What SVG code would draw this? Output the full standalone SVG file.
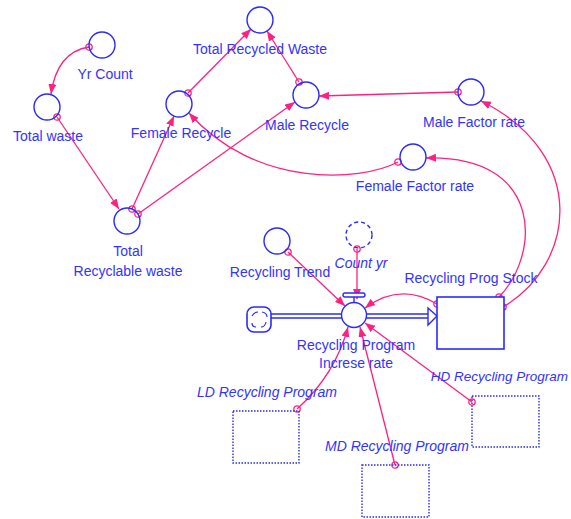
<svg xmlns="http://www.w3.org/2000/svg" width="571" height="519" viewBox="0 0 571 519">
<defs>
<marker id="ah" markerUnits="userSpaceOnUse" markerWidth="12" markerHeight="10" refX="10" refY="4" orient="auto"><path d="M0,0 L10,4 L0,8 z" fill="#ff2080"/></marker>
<marker id="src" markerUnits="userSpaceOnUse" markerWidth="10" markerHeight="10" refX="5" refY="5"><circle cx="5" cy="5" r="3.2" fill="none" stroke="#ff2080" stroke-width="1.3"/></marker>
<style>
.aux{fill:none;stroke:#2a2aff;stroke-width:1.4}
.shadow{fill:none;stroke:#2a2aff;stroke-width:1.4;stroke-dasharray:4 3}
.lbl{font-family:"Liberation Sans",Arial,sans-serif;font-size:14px;fill:#3333ff;text-anchor:middle}
.it{font-style:italic}
.con{fill:none;stroke:#ff2080;stroke-width:1.3;marker-end:url(#ah);marker-start:url(#src)}
.stock{fill:#fff;stroke:#2a2aff;stroke-width:1.6}
.ghost{fill:none;stroke:#2a2aff;stroke-width:1.4;stroke-dasharray:1.5 1.5}
.pipe{stroke:#2a2aff;stroke-width:1.4;fill:none}
</style>
</defs>
<rect width="571" height="519" fill="#fff"/>
<g id="flow">
<line class="pipe" x1="271" y1="314" x2="342" y2="314"/>
<line class="pipe" x1="271" y1="318" x2="342" y2="318"/>
<line class="pipe" x1="366" y1="314" x2="430" y2="314"/>
<line class="pipe" x1="366" y1="318" x2="430" y2="318"/>
<path d="M428,308 L437,316 L428,325 z" fill="#fff" stroke="#2a2aff" stroke-width="1.4"/>
</g>
<g id="cloud">
<rect x="247" y="307" width="24" height="25" rx="7" fill="#fff" stroke="#2a2aff" stroke-width="1.6"/>
<path d="M252,316 q2,-4 6,-4 M262,312 q5,1 5,5 M266,322 q-1,5 -5,5 M256,327 q-4,0 -4,-4" fill="none" stroke="#2a2aff" stroke-width="1.2"/>
</g>
<g id="connectors">
<path class="con" d="M89,47 Q57,52 51,94"/>
<path class="con" d="M57,117 L119,209"/>
<path class="con" d="M132,209 L174,116"/>
<path class="con" d="M138,214 L295,102"/>
<path class="con" d="M188,93 L251,29"/>
<path class="con" d="M299,82 L267,31"/>
<path class="con" d="M458,92 Q390,94 319,96"/>
<path class="con" d="M398,162 C360,182 255,188 189,113"/>
<path class="con" d="M503,307 C575,265 590,155 481,101"/>
<path class="con" d="M499,297 C540,255 545,155 426,158"/>
<path class="con" d="M288,252 L345,306"/>
<path class="con" d="M357,249 L357,299"/>
<path class="con" d="M437,304 Q400,282 365,308"/>
<path class="con" d="M297,409 Q335,375 348,327"/>
<path class="con" d="M395,465 L360,327"/>
<path class="con" d="M472,402 L365,323"/>
</g>
<g id="yr_count"><circle class="aux" cx="102" cy="45" r="13"/><text class="lbl" x="105" y="79">Yr Count</text></g>
<g id="total_waste"><circle class="aux" cx="47" cy="107" r="13"/><text class="lbl" x="48" y="141">Total waste</text></g>
<g id="female_recycle"><circle class="aux" cx="179" cy="104" r="13"/><text class="lbl" x="181" y="138">Female Recycle</text></g>
<g id="total_recycled_waste"><circle class="aux" cx="260" cy="20" r="13"/><text class="lbl" x="260" y="54">Total Recycled Waste</text></g>
<g id="male_recycle"><circle class="aux" cx="306" cy="95" r="13"/><text class="lbl" x="307" y="130">Male Recycle</text></g>
<g id="male_factor_rate"><circle class="aux" cx="471" cy="92" r="13"/><text class="lbl" x="474" y="127">Male Factor rate</text></g>
<g id="female_factor_rate"><circle class="aux" cx="413" cy="157" r="13"/><text class="lbl" x="415" y="191">Female Factor rate</text></g>
<g id="total_recyclable_waste"><circle class="aux" cx="127" cy="221" r="13"/><text class="lbl" x="128" y="256">Total</text><text class="lbl" x="128" y="276">Recyclable waste</text></g>
<g id="recycling_trend"><circle class="aux" cx="277" cy="241" r="13"/><text class="lbl" x="280" y="277">Recycling Trend</text></g>
<g id="count_yr"><circle class="shadow" cx="359" cy="235" r="13"/><text class="lbl it" x="361" y="268">Count yr</text></g>
<g id="recycling_program_increse_rate">
<rect x="343" y="293" width="22" height="4" rx="2" fill="#fff" stroke="#2a2aff" stroke-width="1.4"/>
<line x1="354" y1="297" x2="354" y2="302" stroke="#2a2aff" stroke-width="1.4"/>
<circle class="aux" cx="354" cy="315" r="12.5" style="fill:#fff"/>
<text class="lbl" x="356" y="350">Recycling Program</text><text class="lbl" x="356" y="368">Increse rate</text>
</g>
<g id="recycling_prog_stock"><rect class="stock" x="437" y="297" width="67" height="52"/><text class="lbl" x="471" y="283">Recycling Prog Stock</text></g>
<g id="ld_recycling_program"><rect class="ghost" x="233" y="411" width="66" height="52"/><text class="lbl it" x="267" y="397">LD Recycling Program</text></g>
<g id="md_recycling_program"><rect class="ghost" x="362" y="465" width="67" height="52"/><text class="lbl it" x="397" y="451">MD Recycling Program</text></g>
<g id="hd_recycling_program"><rect class="ghost" x="472" y="396" width="67" height="51"/><text class="lbl it" x="568" y="381" style="text-anchor:end;font-size:13.5px">HD Recycling Program</text></g>
</svg>
